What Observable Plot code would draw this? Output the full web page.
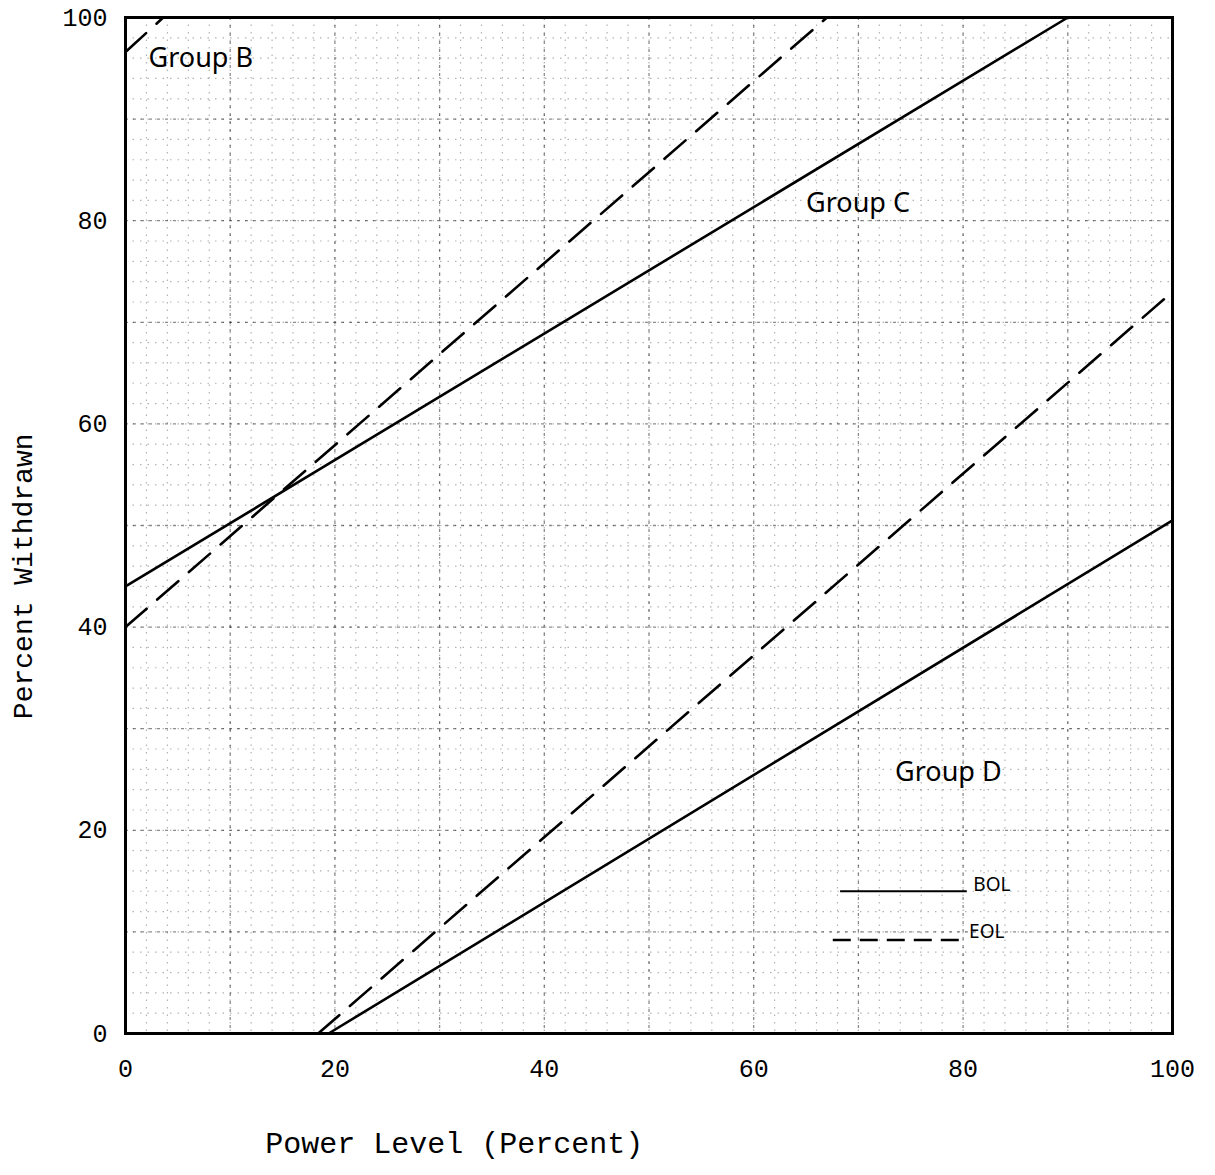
<!DOCTYPE html>
<html>
<head>
<meta charset="utf-8">
<script src="https://cdn.jsdelivr.net/npm/d3@7"></script>
<script src="https://cdn.jsdelivr.net/npm/@observablehq/plot@0.6"></script>
<style>
  html, body { margin: 0; padding: 0; background: #fff; }
  #chart svg { display: block; }
</style>
</head>
<body>
<div id="chart"></div>
<script>
// Line endpoints (Power Level %, Percent Withdrawn %)
const groupC_BOL_x = [0, 90];
const groupC_BOL_y = [44, 100];
const groupC_EOL_x = [0, 67];
const groupC_EOL_y = [40, 100];
const groupB_EOL_x = [0, 3.6];
const groupB_EOL_y = [96.6, 100];
const groupD_EOL_x = [18.4, 100];
const groupD_EOL_y = [0, 73];
const groupD_BOL_x = [19.4, 100];
const groupD_BOL_y = [0, 50.5];

// Group labels
const groupLabels = ["Group B", "Group C", "Group D"];
const groupLabelX = [2.2, 65, 73.5];
const groupLabelY = [96, 81.7, 25.7];

// Legend
const legendNames = ["BOL", "EOL"];
const legendX1 = [68.3, 67.6];
const legendX2 = [80.4, 80.0];
const legendY = [14, 9.2];
const legendLabelY = [14.6, 10.0];

const ticks = [0, 20, 40, 60, 80, 100];
const minorGrid = d3.range(0, 101, 2);
const majorGrid = d3.range(0, 101, 10);

const seg = (xs, ys) => xs.map((x, i) => ({x, y: ys[i]}));
const solidLines = [seg(groupC_BOL_x, groupC_BOL_y), seg(groupD_BOL_x, groupD_BOL_y)];
const dashedLines = [seg(groupC_EOL_x, groupC_EOL_y), seg(groupB_EOL_x, groupB_EOL_y), seg(groupD_EOL_x, groupD_EOL_y)];

const labels = groupLabels.map((t, i) => ({t, x: groupLabelX[i], y: groupLabelY[i]}));
const legend = legendNames.map((t, i) => ({t, x1: legendX1[i], x2: legendX2[i], y: legendY[i], ly: legendLabelY[i]}));

const mono = "'Liberation Mono', 'DejaVu Sans Mono', monospace";

const chart = Plot.plot({
  width: 1215,
  height: 1175,
  marginLeft: 125,
  marginRight: 43,
  marginTop: 17,
  marginBottom: 142,
  x: {domain: [0, 100]},
  y: {domain: [0, 100]},
  style: {fontFamily: mono, background: "#fff"},
  marks: [
    // graph-paper grid
    Plot.ruleY(minorGrid, {stroke: "#000", strokeOpacity: 0.3, strokeWidth: 1.2, strokeDasharray: "1.5,6"}),
    Plot.ruleX(minorGrid, {stroke: "#000", strokeOpacity: 0.3, strokeWidth: 1.2, strokeDasharray: "1.5,6"}),
    Plot.ruleY(majorGrid, {stroke: "#000", strokeOpacity: 0.45, strokeWidth: 1.3, strokeDasharray: "3,5"}),
    Plot.ruleX(majorGrid, {stroke: "#000", strokeOpacity: 0.45, strokeWidth: 1.3, strokeDasharray: "3,5"}),
    Plot.frame({stroke: "#000", strokeWidth: 3}),
    // curves
    ...solidLines.map(d => Plot.line(d, {x: "x", y: "y", stroke: "#000", strokeWidth: 2.6})),
    ...dashedLines.map(d => Plot.line(d, {x: "x", y: "y", stroke: "#000", strokeWidth: 2.6, strokeDasharray: "28,14"})),
    // group labels
    Plot.text(labels, {x: "x", y: "y", text: "t", textAnchor: "start", fontSize: 27, fontFamily: "'Noto Sans', sans-serif", fill: "#000", letterSpacing: 3}),
    // legend
    Plot.ruleY(legend.slice(0, 1), {y: "y", x1: "x1", x2: "x2", stroke: "#000", strokeWidth: 2.2}),
    Plot.ruleY(legend.slice(1), {y: "y", x1: "x1", x2: "x2", stroke: "#000", strokeWidth: 2.6, strokeDasharray: "18,9"}),
    Plot.text(legend, {x: "x2", y: "ly", text: "t", textAnchor: "start", dx: 6, fontSize: 19, fontFamily: "'Noto Sans', sans-serif", fill: "#000"}),
    // axes
    Plot.axisY(ticks, {tickSize: 0, tickPadding: 18, fontSize: 25, label: null, fontFamily: mono}),
    Plot.axisX(ticks, {tickSize: 0, tickPadding: 26, fontSize: 25, label: null, fontFamily: mono}),
    // axis titles
    Plot.text(["Percent Withdrawn"], {x: -9.8, y: 45, rotate: -90, fontSize: 28, fontFamily: mono, fill: "#000", clip: false}),
    Plot.text(["Power Level (Percent)"], {x: 31.4, y: -10.8, fontSize: 30, fontFamily: mono, fill: "#000", clip: false})
  ]
});

document.getElementById("chart").appendChild(chart);
</script>
</body>
</html>
